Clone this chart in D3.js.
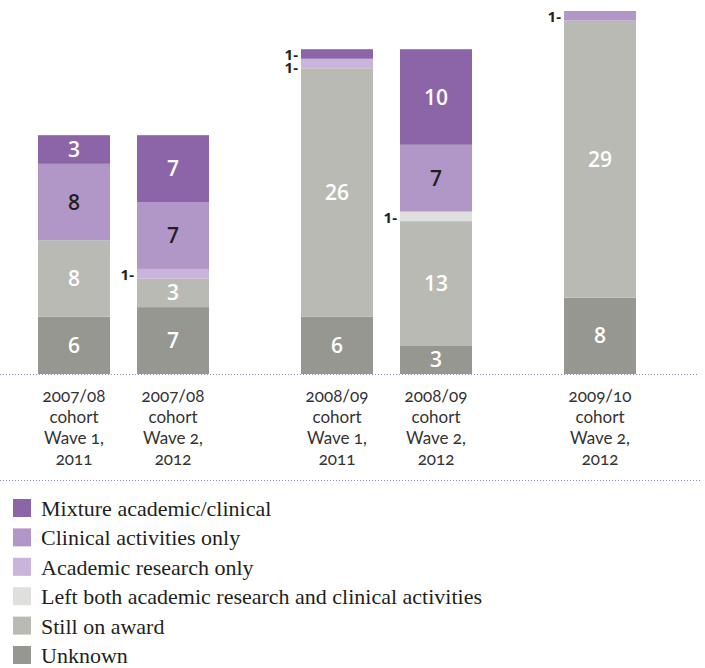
<!DOCTYPE html>
<html>
<head>
<meta charset="utf-8">
<script src="https://cdn.jsdelivr.net/npm/d3@7"></script>
<style>
  html, body { margin: 0; padding: 0; background: #fff; }
  svg { display: block; }
</style>
</head>
<body>
<div id="chart"></div>
<script>
// Career destinations of award holders, by cohort and survey wave
const categories = ["Mixture academic/clinical", "Clinical activities only", "Academic research only",
  "Left both academic research and clinical activities", "Still on award", "Unknown"];
const cohorts = ["2007/08", "2008/09", "2009/10"];
const barCohort = ["2007/08", "2007/08", "2008/09", "2008/09", "2009/10"];
const barSlot = [0, 1, 0, 1, 0];
const barLabels = [
  ["2007/08", "cohort", "Wave 1,", "2011"],
  ["2007/08", "cohort", "Wave 2,", "2012"],
  ["2008/09", "cohort", "Wave 1,", "2011"],
  ["2008/09", "cohort", "Wave 2,", "2012"],
  ["2009/10", "cohort", "Wave 2,", "2012"]
];
// one array per category, one value per bar
const mixture  = [3, 7, 1, 10, 0];
const clinical = [8, 7, 0, 7, 1];
const academic = [0, 1, 1, 0, 0];
const leftBoth = [0, 0, 0, 1, 0];
const stillOn  = [8, 3, 26, 13, 29];
const unknown  = [6, 7, 6, 3, 8];

const colors = ["#8c64a8", "#b197c8", "#c9b5db", "#dfdfdd", "#babab5", "#979792"];

const seriesByKey = {
  "Unknown": unknown,
  "Still on award": stillOn,
  "Left both academic research and clinical activities": leftBoth,
  "Academic research only": academic,
  "Clinical activities only": clinical,
  "Mixture academic/clinical": mixture
};
const stackOrder = categories.slice().reverse(); // bottom to top
const color = d3.scaleOrdinal().domain(categories).range(colors);

const rows = barCohort.map((c, i) => {
  const r = { index: i, cohort: c, slot: barSlot[i] };
  stackOrder.forEach(k => r[k] = seriesByKey[k][i]);
  return r;
});

const W = 705, H = 668;
const svg = d3.select("#chart").append("svg").attr("width", W).attr("height", H);

const y = d3.scaleLinear().domain([0, 38]).range([374, 11]);
const outer = d3.scaleBand().domain(cohorts).range([38, 38 + 3 * 263]);
const inner = d3.scaleBand().domain([0, 1]).range([0, 171]).paddingInner(27 / 99);
const xOf = d => outer(d.cohort) + inner(d.slot);

const stacked = d3.stack().keys(stackOrder)(rows);

const layers = svg.append("g").selectAll("g").data(stacked).join("g")
  .attr("fill", s => color(s.key));
layers.selectAll("rect").data(s => s.filter(d => d[1] > d[0])).join("rect")
  .attr("x", d => xOf(d.data))
  .attr("width", inner.bandwidth())
  .attr("y", d => y(d[1]))
  .attr("height", d => y(d[0]) - y(d[1]));

// value labels: inside for larger segments, beside the bar for thin ones
const labelG = svg.append("g");
const sideLabels = [];
stacked.forEach(s => {
  s.forEach(d => {
    const v = d[1] - d[0];
    if (v <= 0) return;
    const cy = (y(d[0]) + y(d[1])) / 2;
    if (v >= 2) {
      labelG.append("text")
        .attr("x", xOf(d.data) + inner.bandwidth() / 2)
        .attr("y", cy)
        .attr("dy", "0.36em")
        .attr("text-anchor", "middle")
        .attr("font-family", "'Open Sans', sans-serif")
        .attr("font-weight", 600)
        .attr("font-size", 21)
        .attr("fill", s.key === "Clinical activities only" ? "#231f20" : "#ffffff")
        .text(v);
    } else {
      sideLabels.push({ bar: d.data, v, y: cy });
    }
  });
});
// thin-segment labels sit left of the bar; push crowded ones downward
d3.groups(sideLabels, l => l.bar.index).forEach(([, list]) => {
  list.sort((a, b) => a.y - b.y);
  for (let i = 1; i < list.length; i++) {
    if (list[i].y - list[i - 1].y < 13) list[i].y = list[i - 1].y + 13;
  }
  list.forEach(l => {
    labelG.append("text")
      .attr("x", xOf(l.bar) - 3)
      .attr("y", l.y + 1)
      .attr("dy", "0.36em")
      .attr("text-anchor", "end")
      .attr("font-family", "'Open Sans', sans-serif")
      .attr("font-weight", 700)
      .attr("font-size", 15)
      .attr("fill", "#231f20")
      .text(l.v + "-");
  });
});

// dotted rules
const rule = (yy, x2) => svg.append("line")
  .attr("x1", 0).attr("x2", x2).attr("y1", yy).attr("y2", yy)
  .attr("stroke", "#9b80bf").attr("stroke-width", 1)
  .attr("stroke-dasharray", "1,2");
rule(374.5, 697);
rule(480.5, 701);

// category labels
const catG = svg.append("g");
rows.forEach((r, i) => {
  const t = catG.append("text")
    .attr("x", xOf(r) + inner.bandwidth() / 2)
    .attr("text-anchor", "middle")
    .attr("font-family", "Lato, 'Open Sans', sans-serif")
    .style("font-feature-settings", "'onum' 1")
    .attr("font-size", 17)
    .attr("fill", "#333333");
  barLabels[i].forEach((line, j) => {
    t.append("tspan").attr("x", xOf(r) + inner.bandwidth() / 2)
      .attr("y", 402 + j * 21).text(line);
  });
});

// legend
const legend = svg.append("g").attr("transform", "translate(13,499)");
const li = legend.selectAll("g").data(categories).join("g")
  .attr("transform", (d, i) => `translate(0,${i * 29.4})`);
li.append("rect").attr("width", 18).attr("height", 18).attr("fill", d => color(d));
li.append("text").attr("x", 28).attr("y", 9).attr("dy", "0.36em")
  .attr("font-family", "'Liberation Serif', serif")
  .attr("font-size", 22)
  .attr("fill", "#231f20")
  .text(d => d);
</script>
</body>
</html>
